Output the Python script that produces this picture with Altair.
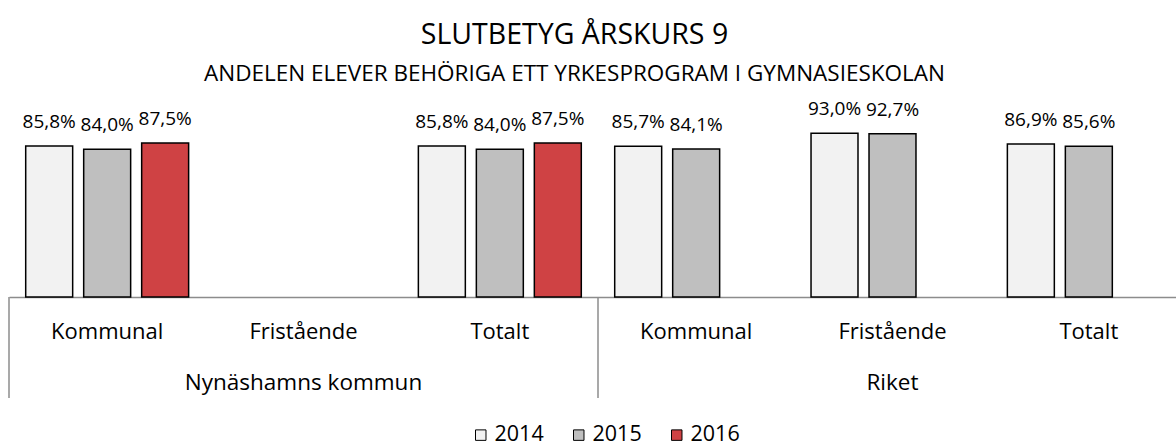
import altair as alt
import pandas as pd

groups = ["Nynäshamns kommun", "Riket"]
subcats = ["Kommunal", "Fristående", "Totalt"]
years = ["2014", "2015", "2016"]
vals_2014 = [85.8, None, 85.8, 85.7, 93.0, 86.9]
vals_2015 = [84.0, None, 84.0, 84.1, 92.7, 85.6]
vals_2016 = [87.5, None, 87.5, None, None, None]
colors = ["#F2F2F2", "#BFBFBF", "#CF4244"]

keys = [g + "|" + s for g in groups for s in subcats]
rows = []
for y, vals in zip(years, [vals_2014, vals_2015, vals_2016]):
    for k, v in zip(keys, vals):
        if v is not None:
            rows.append({"key": k, "year": y, "value": v / 100.0,
                         "label": f"{v:.1f}".replace(".", ",") + "%"})
df = pd.DataFrame(rows)

W, H = 1167, 176
FONT = "Open Sans"

xscale = alt.Scale(domain=keys, range=[0, 1178], paddingInner=0, paddingOuter=0)
x = alt.X("key:N", scale=xscale, title=None,
          axis=alt.Axis(labelExpr="split(datum.label, '|')[1]", labelAngle=0,
                        labelFontSize=22, labelFont=FONT, labelColor="black",
                        labelPadding=41, labelBaseline="alphabetic",
                        ticks=False, tickSize=0, grid=False,
                        domainColor="#8C8C8C", domainWidth=1.5))
xoff = alt.XOffset("year:N", scale=alt.Scale(domain=years, paddingInner=0.19, paddingOuter=0.288))
y = alt.Y("value:Q", scale=alt.Scale(domain=[0, 1]), axis=None)

bars = alt.Chart(df).mark_bar(stroke="black", strokeWidth=1.5).encode(
    x=x, xOffset=xoff, y=y,
    color=alt.Color("year:N", scale=alt.Scale(domain=years, range=colors),
                    legend=alt.Legend(title=None, orient="none", legendX=461, legendY=303,
                                      direction="horizontal", symbolType="square",
                                      symbolSize=110, symbolStrokeColor="black",
                                      symbolStrokeWidth=1, labelFontSize=21.5,
                                      labelFont=FONT, labelColor="black",
                                      labelOffset=3, columnPadding=24)),
)
texts = alt.Chart(df).mark_text(dy=-18, baseline="alphabetic", fontSize=19,
                                font=FONT, color="black").encode(
    x=alt.X("key:N", scale=xscale), xOffset=xoff, y=y, text="label:N")

div_df = pd.DataFrame({"key": [groups[0] + "|" + subcats[0], groups[1] + "|" + subcats[0]]})
dividers = alt.Chart(div_df).mark_rule(color="#8C8C8C", strokeWidth=1.5).encode(
    x=alt.X("key:N", scale=xscale, bandPosition=0),
    y=alt.value(H), y2=alt.value(H + 101))

grp_df = pd.DataFrame({"key": [g + "|" + subcats[1] for g in groups], "name": groups})
grp_labels = alt.Chart(grp_df).mark_text(baseline="alphabetic", fontSize=22.5,
                                          font=FONT, color="black").encode(
    x=alt.X("key:N", scale=xscale), y=alt.value(H + 93), text="name:N")

chart = alt.layer(bars, texts, dividers, grp_labels).properties(
    width=W, height=H,
    title=alt.Title("SLUTBETYG ÅRSKURS 9",
                    subtitle="ANDELEN ELEVER BEHÖRIGA ETT YRKESPROGRAM I GYMNASIESKOLAN",
                    fontSize=28.5, subtitleFontSize=22.5, font=FONT, subtitleFont=FONT,
                    fontWeight="normal", color="black", subtitleColor="black",
                    anchor="middle", dx=-18, offset=15, subtitlePadding=13),
    autosize=alt.AutoSizeParams(type="none"),
    padding={"left": 9, "top": 121, "right": 0, "bottom": 150},
).configure_view(stroke=None)

chart.save("out.html", embed_options={"renderer": "svg", "actions": False})
